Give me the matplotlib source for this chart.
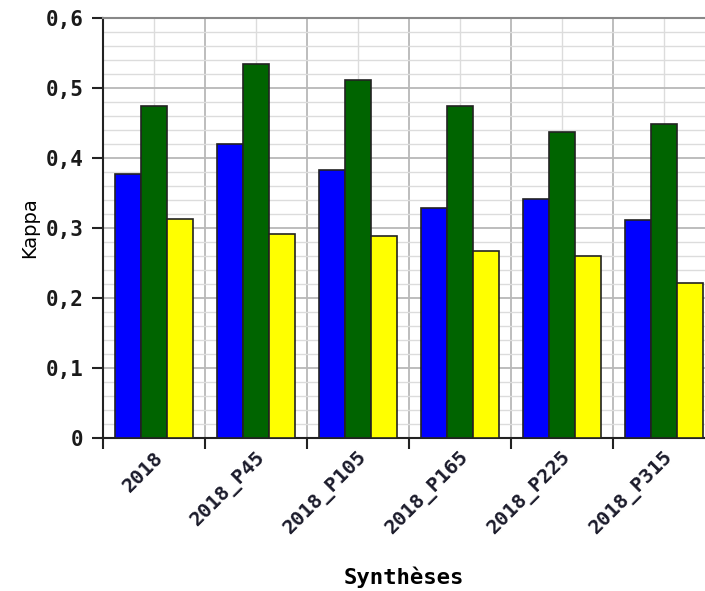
import matplotlib
matplotlib.use("Agg")
import matplotlib.pyplot as plt
import numpy as np
from matplotlib.ticker import MultipleLocator, FixedLocator, NullFormatter

categories = ["2018", "2018_P45", "2018_P105", "2018_P165", "2018_P225", "2018_P315"]
blue_vals = [0.377, 0.420, 0.383, 0.329, 0.341, 0.311]
green_vals = [0.475, 0.535, 0.511, 0.474, 0.437, 0.449]
yellow_vals = [0.313, 0.292, 0.289, 0.267, 0.260, 0.221]
y_ticks = [0, 0.1, 0.2, 0.3, 0.4, 0.5, 0.6]
y_labels = ["0", "0,1", "0,2", "0,3", "0,4", "0,5", "0,6"]

fig = plt.figure(figsize=(7.05, 5.91), dpi=100)
ax = fig.add_axes([103/705, 153/591, 602/705, 420/591])

x = np.arange(len(categories))
w = 0.255
for off, vals, col in [(-w, blue_vals, "#0000ff"), (0, green_vals, "#006400"), (w, yellow_vals, "#ffff00")]:
    ax.bar(x + off, vals, width=w, color=col, edgecolor="#222222", linewidth=1.2, zorder=3)

ax.set_xlim(-0.5, -0.5 + 602/102)
ax.set_ylim(0, 0.6)

# grid
ax.xaxis.set_major_locator(FixedLocator(np.arange(-0.5, 6.0, 1.0)))
ax.xaxis.set_minor_locator(FixedLocator(x))
ax.xaxis.set_major_formatter(NullFormatter())
ax.set_xticks(x, categories, minor=True)
ax.yaxis.set_major_locator(FixedLocator(y_ticks))
ax.set_yticklabels(y_labels)
ax.yaxis.set_minor_locator(MultipleLocator(0.02))

ax.grid(which="major", axis="both", color="#b8b8b8", linewidth=1.3, zorder=0)
ax.grid(which="minor", axis="both", color="#dcdcdc", linewidth=1.0, zorder=0)
ax.set_axisbelow(True)

mono = "DejaVu Sans Mono"
ax.tick_params(axis="x", which="major", length=8, width=1.5, color="#222222", direction="out")
ax.tick_params(axis="x", which="minor", length=0, labelsize=14.5, pad=7)
ax.tick_params(axis="y", which="major", length=8, width=1.5, color="#222222", labelsize=15, pad=6)
ax.tick_params(axis="y", which="minor", length=0)
for lab in ax.get_xticklabels(minor=True):
    lab.set_rotation(45)
    lab.set_ha("right")
    lab.set_rotation_mode("anchor")
    lab.set_family(mono)
    lab.set_weight("bold")
    lab.set_color("#1a1a2a")
for lab in ax.get_yticklabels():
    lab.set_family(mono)
    lab.set_weight("bold")
    lab.set_color("#1a1a1a")

for s in ["left", "bottom"]:
    ax.spines[s].set_color("#222222")
    ax.spines[s].set_linewidth(1.5)
ax.spines["top"].set_color("#888888")
ax.spines["top"].set_linewidth(1.5)
ax.spines["right"].set_visible(False)

ax.set_ylabel("Kappa", fontsize=14, family="DejaVu Sans", labelpad=5)
ax.set_xlabel("Synthèses", fontsize=16, family=mono, weight="bold", labelpad=20)

fig.savefig("out.png", dpi=100)
